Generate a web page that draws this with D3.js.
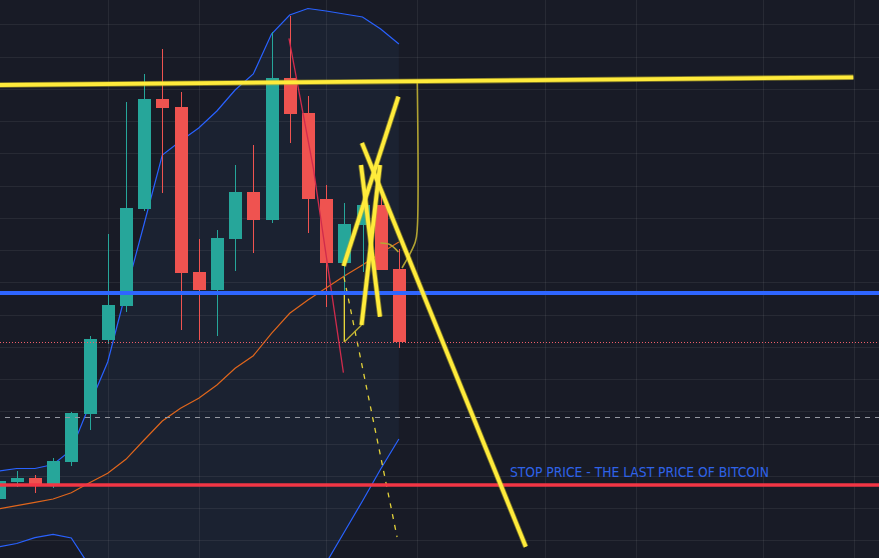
<!DOCTYPE html>
<html>
<head>
<meta charset="utf-8">
<script src="https://cdn.jsdelivr.net/npm/d3@7/dist/d3.min.js"></script>
<style>
  html, body { margin: 0; padding: 0; background: #181b26; }
  svg { display: block; }
</style>
</head>
<body>
<svg id="chart" width="879" height="558"></svg>
<script>
// ---- Data (bar index 0..22, prices in arbitrary BTC-like units) ----
const opens  = [25010,25180,25220,25143,25380,25860,26600,26940,27910,29010,28930,27280,27100,27610,28080,27800,29220,28870,28010,27370,27750,27950,27310];
const highs  = [25200,25290,25250,25420,25880,26640,27660,28980,29260,29510,29080,27610,27700,28350,28550,29680,29840,29040,28150,27970,28160,28100,27510];
const lows   = [25000,25130,25070,25120,25340,25700,26560,26880,27890,28070,26700,26600,26640,27290,27470,27770,28570,27670,26930,27050,27280,27300,26520];
const closes = [25190,25220,25140,25390,25870,26610,26950,27920,29010,28920,27270,27100,27620,28080,27800,29220,28860,28010,27370,27760,27950,27300,26580];

const bbUpper = [25290,25315,25315,25355,25500,25950,26380,27080,27760,28450,28590,28720,28890,29100,29260,29660,29850,29915,29890,29860,29830,29710,29560];
const bbBasis = [24910,24943,24977,25010,25073,25173,25267,25407,25600,25790,25917,26017,26150,26317,26443,26667,26867,27000,27120,27240,27350,27470,27580];
const bbLower = [24530,24565,24623,24657,24620,24340,24150,23730,23440,23130,23240,23310,23410,23530,23630,23670,23880,24100,24370,24680,24990,25310,25610];

// grid (time ticks by bar index, price grid)
const gridBars = [6, 11, 18, 23, 30, 35, 42, 47];
const gridPriceStart = 29757, gridPriceStep = 322.5, gridCount = 17;

// horizontal levels
const blueLevel = 27070;
const redLevel = 25150;
const greyLevel = 25827;

// drawings: [barIndex, price]
const trendTop     = [[-0.5, 29149], [46.97, 29227]];
const drawLineA    = [[19.97, 28570], [28.97, 24533]];
const drawLineB    = [[21.97, 29033], [18.96, 27340]];
const drawLineC    = [[19.92, 28350], [20.96, 26833]];
const drawLineD    = [[20.96, 28350], [19.95, 26750]];
const thinVert     = [[19.0, 27050], [19.0, 26580]];
const thinDiag     = [[19.0, 26580], [19.95, 26750]];
const thinHook     = [[23.01, 29180], [23.01, 27720], [22.9, 27580], [22.17, 27320]];
const thinArc      = [[20.98, 27570], [21.5, 27555], [21.97, 27480]];
const dashedYellow = [[18.98, 27230], [21.9, 24630]];
const redDrawn     = [[15.96, 29617], [17.3, 28317], [18.95, 26273]];

const labelText = "STOP PRICE - THE LAST PRICE OF BITCOIN";
const labelPos = [28.1, 25230];

// ---- Scales ----
const W = 879, H = 558;
const x = d3.scaleLinear().domain([0, 47]).range([-1.5, -1.5 + 47 * 18.2]);
const y = d3.scaleLinear().domain([24420, 30000]).range([H, 0]);
const bodyW = 13;

const svg = d3.select("#chart");
svg.append("rect").attr("width", W).attr("height", H).attr("fill", "#181b26");

const idx = d3.range(opens.length);

// BB fill
const area = d3.area()
  .x(i => x(i))
  .y0(i => y(bbLower[i]))
  .y1(i => y(bbUpper[i]));
svg.append("path").datum(idx).attr("d", area).attr("fill", "#1b2231");

// grid
const g = svg.append("g").attr("stroke", "rgba(255,255,255,0.065)").attr("stroke-width", 1);
g.selectAll("line.v").data(gridBars).join("line")
  .attr("x1", d => Math.round(x(d)) + 0.5).attr("x2", d => Math.round(x(d)) + 0.5)
  .attr("y1", 0).attr("y2", H);
const gridPrices = d3.range(gridCount).map(k => gridPriceStart - k * gridPriceStep);
g.selectAll("line.h").data(gridPrices).join("line")
  .attr("x1", 0).attr("x2", W)
  .attr("y1", d => Math.round(y(d)) + 0.5).attr("y2", d => Math.round(y(d)) + 0.5);

// bands
const bandLine = arr => d3.line().x(i => x(i)).y(i => y(arr[i]))(idx);
svg.append("path").attr("d", bandLine(bbUpper)).attr("fill", "none").attr("stroke", "#2962ff").attr("stroke-width", 1.2);
svg.append("path").attr("d", bandLine(bbLower)).attr("fill", "none").attr("stroke", "#2962ff").attr("stroke-width", 1.2);
svg.append("path").attr("d", bandLine(bbBasis)).attr("fill", "none").attr("stroke", "#e0661c").attr("stroke-width", 1.2);

// candles
const up = "#26a69a", dn = "#ef5350";
const cg = svg.append("g");
cg.selectAll("line.wick").data(idx).join("line")
  .attr("x1", i => Math.round(x(i)) + 0.5).attr("x2", i => Math.round(x(i)) + 0.5)
  .attr("y1", i => y(highs[i])).attr("y2", i => y(lows[i]))
  .attr("stroke", i => closes[i] >= opens[i] ? up : dn).attr("stroke-width", 1);
cg.selectAll("rect.body").data(idx).join("rect")
  .attr("x", i => Math.round(x(i)) + 0.5 - bodyW / 2)
  .attr("width", bodyW)
  .attr("y", i => y(Math.max(opens[i], closes[i])))
  .attr("height", i => Math.max(1, Math.abs(y(opens[i]) - y(closes[i]))))
  .attr("fill", i => closes[i] >= opens[i] ? up : dn);

// drawings
const pl = d3.line().x(d => x(d[0])).y(d => y(d[1]));
const plc = d3.line().x(d => x(d[0])).y(d => y(d[1])).curve(d3.curveCatmullRom);

svg.append("path").attr("d", pl(redDrawn)).attr("fill", "none").attr("stroke", "#d02b4c").attr("stroke-width", 1.3);
svg.append("path").attr("d", pl(dashedYellow)).attr("fill", "none").attr("stroke", "#e2d23a")
  .attr("stroke-width", 1.3).attr("stroke-dasharray", "5,6");

// horizontal levels
svg.append("line").attr("x1", 0).attr("x2", W).attr("y1", y(blueLevel)).attr("y2", y(blueLevel))
  .attr("stroke", "#2e66ff").attr("stroke-width", 4);
svg.append("line").attr("x1", 0).attr("x2", W).attr("y1", y(redLevel)).attr("y2", y(redLevel))
  .attr("stroke", "#f23645").attr("stroke-width", 3.5);
svg.append("line").attr("x1", 0).attr("x2", W).attr("y1", Math.round(y(closes[closes.length - 1])) + 0.5).attr("y2", Math.round(y(closes[closes.length - 1])) + 0.5)
  .attr("stroke", "#ef5f6a").attr("stroke-width", 1).attr("stroke-dasharray", "1,2");
svg.append("line").attr("x1", 5).attr("x2", W).attr("y1", Math.round(y(greyLevel)) + 0.5).attr("y2", Math.round(y(greyLevel)) + 0.5)
  .attr("stroke", "#9598a1").attr("stroke-width", 1).attr("stroke-dasharray", "5,5");

// thin yellow drawings
svg.append("path").attr("d", pl(thinVert)).attr("fill", "none").attr("stroke", "#ffeb3b").attr("stroke-width", 1.2);
svg.append("path").attr("d", pl(thinDiag)).attr("fill", "none").attr("stroke", "#b9ab33").attr("stroke-width", 1.4);
svg.append("path").attr("d", plc(thinHook)).attr("fill", "none").attr("stroke", "#b0a232").attr("stroke-width", 1.6);
svg.append("path").attr("d", plc(thinArc)).attr("fill", "none").attr("stroke", "#b6a733").attr("stroke-width", 1.4);

// thick yellow drawings
const thick = [trendTop, drawLineA, drawLineB, drawLineC, drawLineD];
svg.selectAll("path.thickU").data(thick).join("path")
  .attr("d", d => pl(d)).attr("fill", "none")
  .attr("stroke", "rgba(200,185,40,0.55)").attr("stroke-width", 5.5);
svg.selectAll("path.thick").data(thick).join("path")
  .attr("d", d => pl(d)).attr("fill", "none")
  .attr("stroke", "#ffeb3b").attr("stroke-width", 3.8);

// label
svg.append("text")
  .attr("x", x(labelPos[0])).attr("y", y(labelPos[1]))
  .attr("fill", "#2f63e8")
  .attr("font-family", "'DejaVu Sans', sans-serif")
  .attr("font-size", 14)
  .attr("textLength", 259).attr("lengthAdjust", "spacingAndGlyphs")
  .text(labelText);
</script>
</body>
</html>
